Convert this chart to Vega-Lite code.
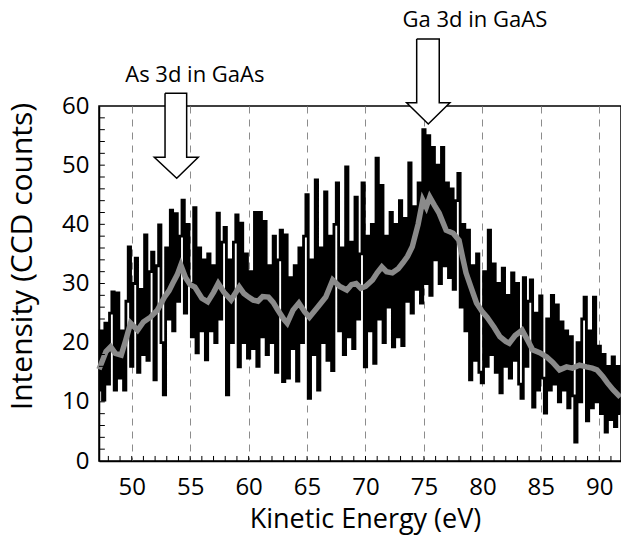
{
  "$schema": "https://vega.github.io/schema/vega-lite/v6.json",
  "autosize": {"type": "none"},
  "width": 522,
  "height": 355,
  "padding": {"left": 99, "top": 106, "right": 0, "bottom": 78},
  "config": {
    "view": {"stroke": "black", "strokeWidth": 1.5},
    "font": "Open Sans",
    "axis": {
      "labelFont": "Open Sans", "labelFontSize": 24, "labelColor": "black", "labelOverlap": false,
      "titleFont": "Open Sans", "titleFontSize": 27, "titleFontWeight": "normal", "titleColor": "black",
      "domainColor": "black", "domainWidth": 1.5, "ticks": false
    }
  },
  "datasets": {
    "raw": [
      {"x":47.2,"y":12},{"x":47.4,"y":22},{"x":47.6,"y":10.3},{"x":47.8,"y":23.3},{"x":48.0,"y":13},{"x":48.2,"y":25},{"x":48.4,"y":28.6},{"x":48.6,"y":12},{"x":48.8,"y":28.4},{"x":49.0,"y":14},
      {"x":49.2,"y":22},{"x":49.4,"y":12},{"x":49.6,"y":27},{"x":49.8,"y":36.2},{"x":50.0,"y":16},{"x":50.2,"y":30},{"x":50.4,"y":34.3},{"x":50.6,"y":15},{"x":50.8,"y":29},{"x":51.0,"y":18},
      {"x":51.2,"y":38.2},{"x":51.4,"y":17},{"x":51.6,"y":32},{"x":51.8,"y":35.3},{"x":52.0,"y":13.7},{"x":52.2,"y":33},{"x":52.4,"y":39.9},{"x":52.6,"y":20},{"x":52.8,"y":11.2},{"x":53.0,"y":36},
      {"x":53.2,"y":24},{"x":53.4,"y":42.4},{"x":53.6,"y":22},{"x":53.8,"y":41.8},{"x":54.0,"y":27},{"x":54.2,"y":38},{"x":54.4,"y":44.1},{"x":54.6,"y":25},{"x":54.8,"y":40},{"x":55.0,"y":30},
      {"x":55.2,"y":21},{"x":55.4,"y":42.8},{"x":55.6,"y":18.3},{"x":55.8,"y":36},{"x":56.0,"y":22},{"x":56.2,"y":34},{"x":56.4,"y":17.1},{"x":56.6,"y":35},{"x":56.8,"y":22},{"x":57.0,"y":33},
      {"x":57.2,"y":20},{"x":57.4,"y":41.9},{"x":57.6,"y":24},{"x":57.8,"y":37},{"x":58.0,"y":39.5},{"x":58.2,"y":11.2},{"x":58.4,"y":34},{"x":58.6,"y":20},{"x":58.8,"y":37},{"x":59.0,"y":41.6},
      {"x":59.2,"y":15.9},{"x":59.4,"y":40.2},{"x":59.6,"y":20},{"x":59.8,"y":35},{"x":60.0,"y":17.4},{"x":60.2,"y":32},{"x":60.4,"y":19},{"x":60.6,"y":42},{"x":60.8,"y":16},{"x":61.0,"y":42},
      {"x":61.2,"y":21},{"x":61.4,"y":40.5},{"x":61.6,"y":18},{"x":61.8,"y":33},{"x":62.0,"y":20},{"x":62.2,"y":38},{"x":62.4,"y":15},{"x":62.6,"y":34},{"x":62.8,"y":39},{"x":63.0,"y":13.4},
      {"x":63.2,"y":38.2},{"x":63.4,"y":14},{"x":63.6,"y":31},{"x":63.8,"y":19},{"x":64.0,"y":33},{"x":64.2,"y":13.5},{"x":64.4,"y":36},{"x":64.6,"y":20},{"x":64.8,"y":38},{"x":65.0,"y":45},
      {"x":65.2,"y":10.6},{"x":65.4,"y":34},{"x":65.6,"y":18},{"x":65.8,"y":47.5},{"x":66.0,"y":12},{"x":66.2,"y":36},{"x":66.4,"y":20},{"x":66.6,"y":45.5},{"x":66.8,"y":17},{"x":67.0,"y":38},
      {"x":67.2,"y":15.3},{"x":67.4,"y":40},{"x":67.6,"y":47},{"x":67.8,"y":22},{"x":68.0,"y":36},{"x":68.2,"y":18},{"x":68.4,"y":49.7},{"x":68.6,"y":21},{"x":68.8,"y":37},{"x":69.0,"y":19},
      {"x":69.2,"y":44.6},{"x":69.4,"y":24},{"x":69.6,"y":35},{"x":69.8,"y":47},{"x":70.0,"y":15.9},{"x":70.2,"y":38},{"x":70.4,"y":22},{"x":70.6,"y":40},{"x":70.8,"y":16.5},{"x":71.0,"y":51.2},
      {"x":71.2,"y":24},{"x":71.4,"y":46.6},{"x":71.6,"y":20},{"x":71.8,"y":38},{"x":72.0,"y":26},{"x":72.2,"y":42},{"x":72.4,"y":19.3},{"x":72.6,"y":40},{"x":72.8,"y":21},{"x":73.0,"y":44},
      {"x":73.2,"y":19.5},{"x":73.4,"y":41},{"x":73.6,"y":27},{"x":73.8,"y":50.4},{"x":74.0,"y":25},{"x":74.2,"y":43},{"x":74.4,"y":29},{"x":74.6,"y":47},{"x":74.8,"y":26.7},{"x":75.0,"y":56},
      {"x":75.2,"y":30},{"x":75.4,"y":55},{"x":75.6,"y":28},{"x":75.8,"y":53},{"x":76.0,"y":34},{"x":76.2,"y":50},{"x":76.4,"y":30},{"x":76.6,"y":53},{"x":76.8,"y":33},{"x":77.0,"y":47},
      {"x":77.2,"y":31},{"x":77.4,"y":46},{"x":77.6,"y":29},{"x":77.8,"y":44},{"x":78.0,"y":48.6},{"x":78.2,"y":26},{"x":78.4,"y":40},{"x":78.6,"y":22},{"x":78.8,"y":39},{"x":79.0,"y":13.7},
      {"x":79.2,"y":33},{"x":79.4,"y":17},{"x":79.6,"y":35},{"x":79.8,"y":15},{"x":80.0,"y":13.2},{"x":80.2,"y":32},{"x":80.4,"y":16},{"x":80.6,"y":39},{"x":80.8,"y":18},{"x":81.0,"y":33.3},
      {"x":81.2,"y":15},{"x":81.4,"y":30},{"x":81.6,"y":11.5},{"x":81.8,"y":32.6},{"x":82.0,"y":16},{"x":82.2,"y":28},{"x":82.4,"y":14},{"x":82.6,"y":31.8},{"x":82.8,"y":17},{"x":83.0,"y":30},
      {"x":83.2,"y":13},{"x":83.4,"y":10.6},{"x":83.6,"y":31},{"x":83.8,"y":16},{"x":84.0,"y":27},{"x":84.2,"y":30.6},{"x":84.4,"y":9.1},{"x":84.6,"y":25},{"x":84.8,"y":12},{"x":85.0,"y":27.9},
      {"x":85.2,"y":14},{"x":85.4,"y":8.1},{"x":85.6,"y":24},{"x":85.8,"y":12},{"x":86.0,"y":28},{"x":86.2,"y":13},{"x":86.4,"y":26.4},{"x":86.6,"y":10},{"x":86.8,"y":23.5},{"x":87.0,"y":12},
      {"x":87.2,"y":22},{"x":87.4,"y":9},{"x":87.6,"y":21},{"x":87.8,"y":11},{"x":88.0,"y":3.2},{"x":88.2,"y":20},{"x":88.4,"y":10},{"x":88.6,"y":24},{"x":88.8,"y":27.7},{"x":89.0,"y":6.8},
      {"x":89.2,"y":22},{"x":89.4,"y":9},{"x":89.6,"y":27.7},{"x":89.8,"y":10},{"x":90.0,"y":19.4},{"x":90.2,"y":8},{"x":90.4,"y":18},{"x":90.6,"y":4.9},{"x":90.8,"y":16},{"x":91.0,"y":7},
      {"x":91.2,"y":17.6},{"x":91.4,"y":5.8},{"x":91.6,"y":16},{"x":91.8,"y":8}
    ],
    "smooth": [
      {"x":47.2,"y":15.5},{"x":47.5,"y":17},{"x":47.8,"y":18.5},{"x":48.2,"y":19.3},{"x":48.6,"y":18.2},{"x":49.1,"y":17.9},{"x":49.5,"y":20.5},{"x":49.9,"y":23.3},{"x":50.5,"y":22.1},{"x":51.0,"y":23.5},
      {"x":51.6,"y":24.3},{"x":52.2,"y":25.5},{"x":52.8,"y":27.7},{"x":53.2,"y":28.8},{"x":53.5,"y":30},{"x":53.9,"y":31.5},{"x":54.2,"y":33.1},{"x":54.6,"y":31},{"x":55.0,"y":29.8},{"x":55.4,"y":29.4},
      {"x":56.0,"y":27.5},{"x":56.5,"y":26.9},{"x":57.0,"y":28.5},{"x":57.4,"y":30},{"x":57.9,"y":28.5},{"x":58.5,"y":27.2},{"x":59.2,"y":29.4},{"x":59.6,"y":28.3},{"x":60.0,"y":27.7},{"x":60.4,"y":27.2},
      {"x":60.8,"y":27},{"x":61.2,"y":27.8},{"x":61.7,"y":27.7},{"x":62.1,"y":26.8},{"x":62.5,"y":25.5},{"x":63.0,"y":24},{"x":63.3,"y":23.3},{"x":63.8,"y":25.5},{"x":64.3,"y":26.7},{"x":64.8,"y":25.2},
      {"x":65.2,"y":24.3},{"x":65.9,"y":26},{"x":66.6,"y":27.7},{"x":67.2,"y":30.6},{"x":67.8,"y":29.5},{"x":68.4,"y":28.9},{"x":68.8,"y":29.8},{"x":69.2,"y":30},{"x":69.6,"y":29.2},{"x":70.0,"y":29.5},
      {"x":70.6,"y":30.6},{"x":71.0,"y":31.8},{"x":71.4,"y":32.8},{"x":71.8,"y":32},{"x":72.3,"y":31.8},{"x":72.8,"y":32.5},{"x":73.2,"y":33.5},{"x":73.6,"y":34.6},{"x":74.0,"y":36.2},{"x":74.5,"y":40},
      {"x":74.9,"y":44.1},{"x":75.2,"y":42.9},{"x":75.5,"y":44.6},{"x":75.9,"y":43.2},{"x":76.3,"y":41.9},{"x":76.9,"y":39},{"x":77.5,"y":38.5},{"x":78.0,"y":37.3},{"x":78.3,"y":34.5},{"x":78.6,"y":31.8},
      {"x":79.0,"y":29.5},{"x":79.5,"y":26.7},{"x":80.0,"y":25.2},{"x":80.4,"y":24.3},{"x":81.0,"y":22.6},{"x":81.5,"y":21},{"x":82.0,"y":20.2},{"x":82.3,"y":19.9},{"x":82.8,"y":21.2},{"x":83.4,"y":22.1},
      {"x":83.9,"y":20.3},{"x":84.3,"y":18.8},{"x":84.9,"y":18.3},{"x":85.5,"y":17.6},{"x":86.0,"y":16.7},{"x":86.6,"y":15.4},{"x":87.2,"y":15.9},{"x":87.7,"y":15.7},{"x":88.3,"y":16.2},{"x":88.9,"y":15.9},
      {"x":89.4,"y":15.7},{"x":89.8,"y":15.4},{"x":90.3,"y":14.3},{"x":90.7,"y":13.2},{"x":91.2,"y":12},{"x":91.8,"y":10.8}
    ],
    "xticks": [
      {"v":48},{"v":49},{"v":50},{"v":51},{"v":52},{"v":53},{"v":54},{"v":55},{"v":56},{"v":57},{"v":58},{"v":59},{"v":60},{"v":61},{"v":62},{"v":63},{"v":64},{"v":65},{"v":66},{"v":67},{"v":68},{"v":69},
      {"v":70},{"v":71},{"v":72},{"v":73},{"v":74},{"v":75},{"v":76},{"v":77},{"v":78},{"v":79},{"v":80},{"v":81},{"v":82},{"v":83},{"v":84},{"v":85},{"v":86},{"v":87},{"v":88},{"v":89},{"v":90},{"v":91}
    ],
    "yticks": [
      {"v":2},{"v":4},{"v":6},{"v":8},{"v":10},{"v":12},{"v":14},{"v":16},{"v":18},{"v":20},{"v":22},{"v":24},{"v":26},{"v":28},{"v":30},
      {"v":32},{"v":34},{"v":36},{"v":38},{"v":40},{"v":42},{"v":44},{"v":46},{"v":48},{"v":50},{"v":52},{"v":54},{"v":56},{"v":58}
    ],
    "shafts": [
      {"arrow":"As","x":52.85,"x2":54.70,"y":51.33,"y2":62.14},
      {"arrow":"Ga","x":74.38,"x2":76.31,"y":60.55,"y2":71.32}
    ],
    "heads": [
      {"arrow":"As","x":51.93,"y":51.33,"y2":51.33},{"arrow":"As","x":53.85,"y":47.78,"y2":51.33},{"arrow":"As","x":55.69,"y":51.33,"y2":51.33},
      {"arrow":"Ga","x":73.52,"y":60.55,"y2":60.55},{"arrow":"Ga","x":75.37,"y":56.95,"y2":60.55},{"arrow":"Ga","x":77.22,"y":60.55,"y2":60.55}
    ],
    "outline": [
      {"arrow":"As","i":1,"x":52.85,"y":62.14},{"arrow":"As","i":2,"x":52.85,"y":51.33},{"arrow":"As","i":3,"x":51.93,"y":51.33},{"arrow":"As","i":4,"x":53.85,"y":47.78},{"arrow":"As","i":5,"x":55.69,"y":51.33},{"arrow":"As","i":6,"x":54.70,"y":51.33},{"arrow":"As","i":7,"x":54.70,"y":62.14},{"arrow":"As","i":8,"x":52.85,"y":62.14},
      {"arrow":"Ga","i":1,"x":74.38,"y":71.32},{"arrow":"Ga","i":2,"x":74.38,"y":60.55},{"arrow":"Ga","i":3,"x":73.52,"y":60.55},{"arrow":"Ga","i":4,"x":75.37,"y":56.95},{"arrow":"Ga","i":5,"x":77.22,"y":60.55},{"arrow":"Ga","i":6,"x":76.31,"y":60.55},{"arrow":"Ga","i":7,"x":76.31,"y":71.32},{"arrow":"Ga","i":8,"x":74.38,"y":71.32}
    ],
    "labels": [
      {"x":55.4,"y":64.05,"text":"As 3d in GaAs"},
      {"x":79.36,"y":73.35,"text":"Ga 3d in GaAS"}
    ]
  },
  "layer": [
    {
      "data": {"name": "raw"},
      "mark": {"type": "line", "color": "black", "strokeWidth": 2.8, "interpolate": "step"},
      "encoding": {
        "x": {
          "field": "x", "type": "quantitative",
          "scale": {"domain": [47.2, 91.86], "nice": false, "zero": false},
          "axis": {
            "values": [50,55,60,65,70,75,80,85,90],
            "labelPadding": 14,
            "grid": true,
            "gridDash": [7, 6],
            "gridColor": "#8c8c8c",
            "gridWidth": 1,
            "title": "Kinetic Energy (eV)",
            "titleBaseline": "alphabetic",
            "titleX": 266,
            "titleY": 66
          }
        },
        "y": {
          "field": "y", "type": "quantitative",
          "scale": {"domain": [0, 60], "nice": false},
          "axis": {
            "values": [0,10,20,30,40,50,60],
            "labelPadding": 10,
            "grid": false,
            "title": "Intensity (CCD counts)",
            "titleFontSize": 30,
            "titleX": -62,
            "titleY": 150
          }
        }
      }
    },
    {
      "data": {"name": "smooth"},
      "mark": {"type": "line", "color": "#8a8a8a", "strokeWidth": 5.5},
      "encoding": {
        "x": {"field": "x", "type": "quantitative"},
        "y": {"field": "y", "type": "quantitative"}
      }
    },
    {
      "data": {"name": "xticks"},
      "mark": {"type": "rule", "color": "black", "strokeWidth": 1},
      "encoding": {
        "x": {"field": "v", "type": "quantitative"},
        "y": {"datum": 0},
        "y2": {"datum": 0.85}
      }
    },
    {
      "data": {"name": "yticks"},
      "mark": {"type": "rule", "color": "black", "strokeWidth": 1},
      "encoding": {
        "y": {"field": "v", "type": "quantitative"},
        "x": {"datum": 47.2},
        "x2": {"datum": 47.7}
      }
    },
    {
      "data": {"name": "shafts"},
      "mark": {"type": "rect", "fill": "white", "clip": false},
      "encoding": {
        "x": {"field": "x", "type": "quantitative"},
        "x2": {"field": "x2"},
        "y": {"field": "y", "type": "quantitative"},
        "y2": {"field": "y2"}
      }
    },
    {
      "data": {"name": "heads"},
      "mark": {"type": "area", "fill": "white", "opacity": 1, "clip": false},
      "encoding": {
        "x": {"field": "x", "type": "quantitative"},
        "y": {"field": "y", "type": "quantitative"},
        "y2": {"field": "y2"},
        "detail": {"field": "arrow"}
      }
    },
    {
      "data": {"name": "outline"},
      "mark": {"type": "line", "color": "black", "strokeWidth": 1.5, "clip": false},
      "encoding": {
        "x": {"field": "x", "type": "quantitative"},
        "y": {"field": "y", "type": "quantitative"},
        "order": {"field": "i"},
        "detail": {"field": "arrow"}
      }
    },
    {
      "data": {"name": "labels"},
      "mark": {"type": "text", "font": "Open Sans", "fontSize": 22, "align": "center", "baseline": "alphabetic", "color": "black"},
      "encoding": {
        "x": {"field": "x", "type": "quantitative"},
        "y": {"field": "y", "type": "quantitative"},
        "text": {"field": "text"}
      }
    }
  ]
}
